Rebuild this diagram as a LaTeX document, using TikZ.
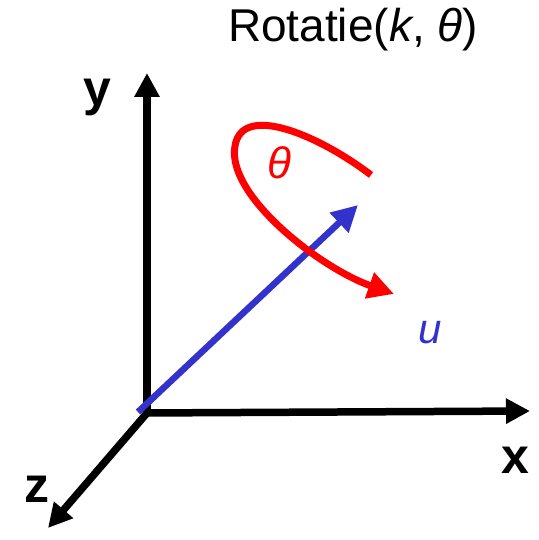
\documentclass[tikz,border=0pt]{standalone}
\usepackage{fontspec}
\setmainfont{Liberation Sans}
\usetikzlibrary{arrows.meta}
\definecolor{ublue}{HTML}{3333CC}
\definecolor{rred}{HTML}{FF0000}
\tikzset{
  axis/.style={line width=7.5pt, -{Triangle[length=24pt,width=24pt]}},
  axlabel/.style={font=\fontsize{50}{50}\selectfont\bfseries},
  vec/.style={line width=6.5pt, ublue, -{Triangle[length=26pt,width=26pt]}},
  rot/.style={line width=7pt, rred, -{Triangle[length=26pt,width=26pt]}},
}
\begin{document}
\begin{tikzpicture}[x=1pt,y=-1pt]
\useasboundingbox (0,0) rectangle (538,540);
\coordinate (O) at (147,413);
\coordinate (Xt) at (530,411);
\coordinate (Yt) at (147,73);
\coordinate (Zt) at (48,528);
\coordinate (Us) at (138,412);
\coordinate (Ut) at (358,205);
\coordinate (Rs) at (371,175);
\coordinate (Rm) at (235,146);
\coordinate (Rt) at (394,294);
\draw[axis] ([yshift=3.75pt]O) -- (Yt);
\draw[axis] ([xshift=-3.75pt]O) -- (Xt);
\draw[axis] (O) -- (Zt);
\draw[vec] (Us) -- (Ut);
\draw[rot] (Rs) .. controls (320,136) and (242,102) .. (Rm) .. controls (226,195) and (320,268) .. (Rt);
\node[axlabel] (ylab) at (97,97) {y};
\node[axlabel] (xlab) at (515,460) {x};
\node[axlabel] (zlab) at (37,489) {z};
\node[font=\fontsize{44}{44}\selectfont\itshape, text=rred] (th) at (279,163) {θ};
\node[font=\fontsize{42}{42}\selectfont\itshape, text=ublue] (ulab) at (430,333) {u};
\node[font=\fontsize{46}{46}\selectfont] (title) at (353,30) {Rotatie(\textit{k}, \textit{θ})};
\end{tikzpicture}
\end{document}
